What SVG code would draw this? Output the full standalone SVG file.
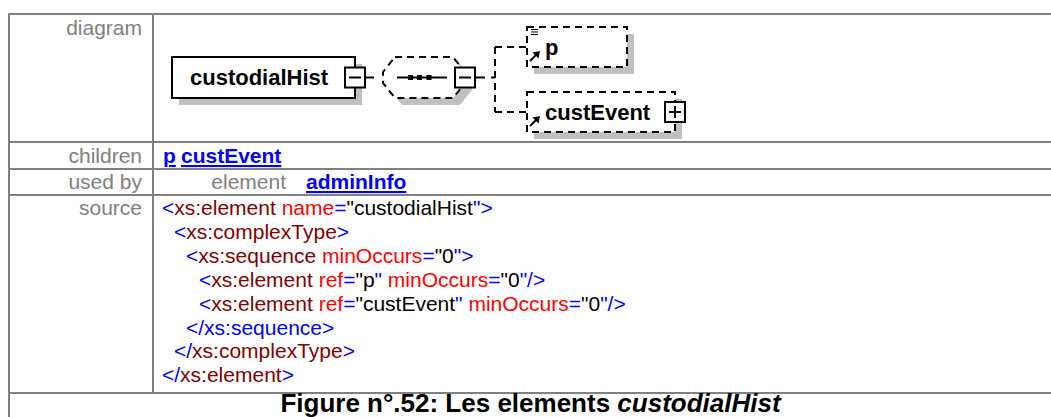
<svg xmlns="http://www.w3.org/2000/svg" width="1051" height="417" viewBox="0 0 1051 417">
<style>
text{font-family:"Liberation Sans",Arial,Helvetica,sans-serif}
.lbl{font-size:21px;fill:#808080;text-anchor:end}
.src{font-size:21px;fill:#000}
.b{fill:#0000ff}.m{fill:#800000}.r{fill:#ff0000}
.lnk{font-size:21px;font-weight:bold;fill:#0000ff;text-decoration:underline}
.grid{stroke:#808080;stroke-width:2;fill:none}
.shadow{fill:#c0c0c0;stroke:none}
.box{fill:#fff;stroke:#000;stroke-width:2}
.dash{fill:#fff;stroke:#000;stroke-width:2;stroke-dasharray:7 5}
.ln{stroke:#000;stroke-width:2;fill:none}
.dln{stroke:#000;stroke-width:2;fill:none;stroke-dasharray:7 5}
.nt{font-size:22px;font-weight:bold;fill:#000}
</style>
<rect width="1051" height="417" fill="#fff"/>
<g id="table">
<line class="grid" x1="8" y1="14" x2="1051" y2="14"/>
<line class="grid" x1="9" y1="13" x2="9" y2="417"/>
<line class="grid" x1="153" y1="14" x2="153" y2="393"/>
<line class="grid" x1="8" y1="142" x2="1051" y2="142"/>
<line class="grid" x1="8" y1="169" x2="1051" y2="169"/>
<line class="grid" x1="8" y1="195" x2="1051" y2="195"/>
<line class="grid" x1="8" y1="393" x2="1051" y2="393"/>
<text class="lbl" x="142" y="35">diagram</text>
<text class="lbl" x="142" y="163">children</text>
<text class="lbl" x="142" y="189">used by</text>
<text class="lbl" x="142" y="215">source</text>
<text class="lnk" x="163" y="163">p</text>
<text class="lnk" x="181" y="163">custEvent</text>
<text class="lbl" x="286" y="189">element</text>
<text class="lnk" x="306" y="189">adminInfo</text>
<text class="src" x="162" y="215"><tspan class="b">&lt;</tspan><tspan class="m">xs:element</tspan><tspan class="r"> name</tspan><tspan class="b">=</tspan>"custodialHist<tspan class="b">"&gt;</tspan></text>
<text class="src" x="174" y="239"><tspan class="b">&lt;</tspan><tspan class="m">xs:complexType</tspan><tspan class="b">&gt;</tspan></text>
<text class="src" x="186" y="263"><tspan class="b">&lt;</tspan><tspan class="m">xs:sequence</tspan><tspan class="r"> minOccurs</tspan><tspan class="b">=</tspan>"0<tspan class="b">"&gt;</tspan></text>
<text class="src" x="199" y="287"><tspan class="b">&lt;</tspan><tspan class="m">xs:element</tspan><tspan class="r"> ref</tspan><tspan class="b">=</tspan>"p<tspan class="b">"</tspan><tspan class="r"> minOccurs</tspan><tspan class="b">=</tspan>"0<tspan class="b">"/&gt;</tspan></text>
<text class="src" x="199" y="311"><tspan class="b">&lt;</tspan><tspan class="m">xs:element</tspan><tspan class="r"> ref</tspan><tspan class="b">=</tspan>"custEvent<tspan class="b">"</tspan><tspan class="r"> minOccurs</tspan><tspan class="b">=</tspan>"0<tspan class="b">"/&gt;</tspan></text>
<text class="src" x="186" y="334.5"><tspan class="b">&lt;/xs:sequence&gt;</tspan></text>
<text class="src" x="174" y="358"><tspan class="b">&lt;/</tspan><tspan class="m">xs:complexType</tspan><tspan class="b">&gt;</tspan></text>
<text class="src" x="162" y="382"><tspan class="b">&lt;/</tspan><tspan class="m">xs:element</tspan><tspan class="b">&gt;</tspan></text>
<text x="530.5" y="412" text-anchor="middle" font-size="26" font-weight="bold" fill="#000">Figure n°.52: Les elements <tspan font-style="italic">custodialHist</tspan></text>
</g>
<g id="connectors">
<line class="ln" x1="365" y1="77.5" x2="374" y2="77.5"/>
<line class="ln" x1="475" y1="77.5" x2="485" y2="77.5"/>
<line class="ln" x1="491" y1="77.5" x2="495" y2="77.5"/>
<line class="dln" x1="495" y1="47" x2="495" y2="112"/>
<line class="dln" x1="495" y1="47" x2="527" y2="47"/>
<line class="dln" x1="495" y1="112" x2="527" y2="112"/>
</g>
<g id="node-custodialHist">
<rect class="shadow" x="179" y="64" width="183" height="41"/>
<rect class="box" x="172" y="57" width="183" height="41"/>
<text class="nt" x="190" y="84.5">custodialHist</text>
<rect class="box" x="345" y="67.5" width="20" height="20"/>
<line class="ln" x1="349" y1="77.5" x2="361" y2="77.5"/>
</g>
<g id="node-sequence">
<polygon class="shadow" points="402,64 460,64 472,79 472,90 460,105 402,105 390,90 390,79"/>
<polygon class="dash" points="395,57 453,57 465,72 465,83 453,98 395,98 383,83 383,72"/>
<line class="ln" x1="397" y1="77.5" x2="447" y2="77.5"/>
<rect x="408" y="75" width="5" height="5" fill="#000"/>
<rect x="417" y="75" width="5" height="5" fill="#000"/>
<rect x="426.5" y="75" width="5" height="5" fill="#000"/>
<rect class="box" x="455" y="67.5" width="20" height="20"/>
<line class="ln" x1="459" y1="77.5" x2="471" y2="77.5"/>
</g>
<g id="node-p">
<rect class="shadow" x="534" y="34" width="100" height="40"/>
<rect class="dash" x="527" y="27" width="100" height="40"/>
<path d="M531 29.5h7M531 32h7M531 34.5h7" stroke="#000" stroke-width="1.2"/>
<line class="ln" x1="530" y1="61" x2="536" y2="55"/>
<polygon points="540,51 532.5,52.5 538.5,58.5" fill="#000"/>
<text class="nt" x="545" y="54.5">p</text>
</g>
<g id="node-custEvent">
<rect class="shadow" x="534" y="99" width="148" height="40"/>
<rect class="dash" x="527" y="92" width="148" height="40"/>
<line class="ln" x1="530" y1="126" x2="536" y2="120"/>
<polygon points="540,116 532.5,117.5 538.5,123.5" fill="#000"/>
<text class="nt" x="545" y="119.5">custEvent</text>
<rect class="box" x="665" y="102" width="20" height="20"/>
<path d="M669 112h12M675 106v12" stroke="#000" stroke-width="2"/>
</g>
</svg>
